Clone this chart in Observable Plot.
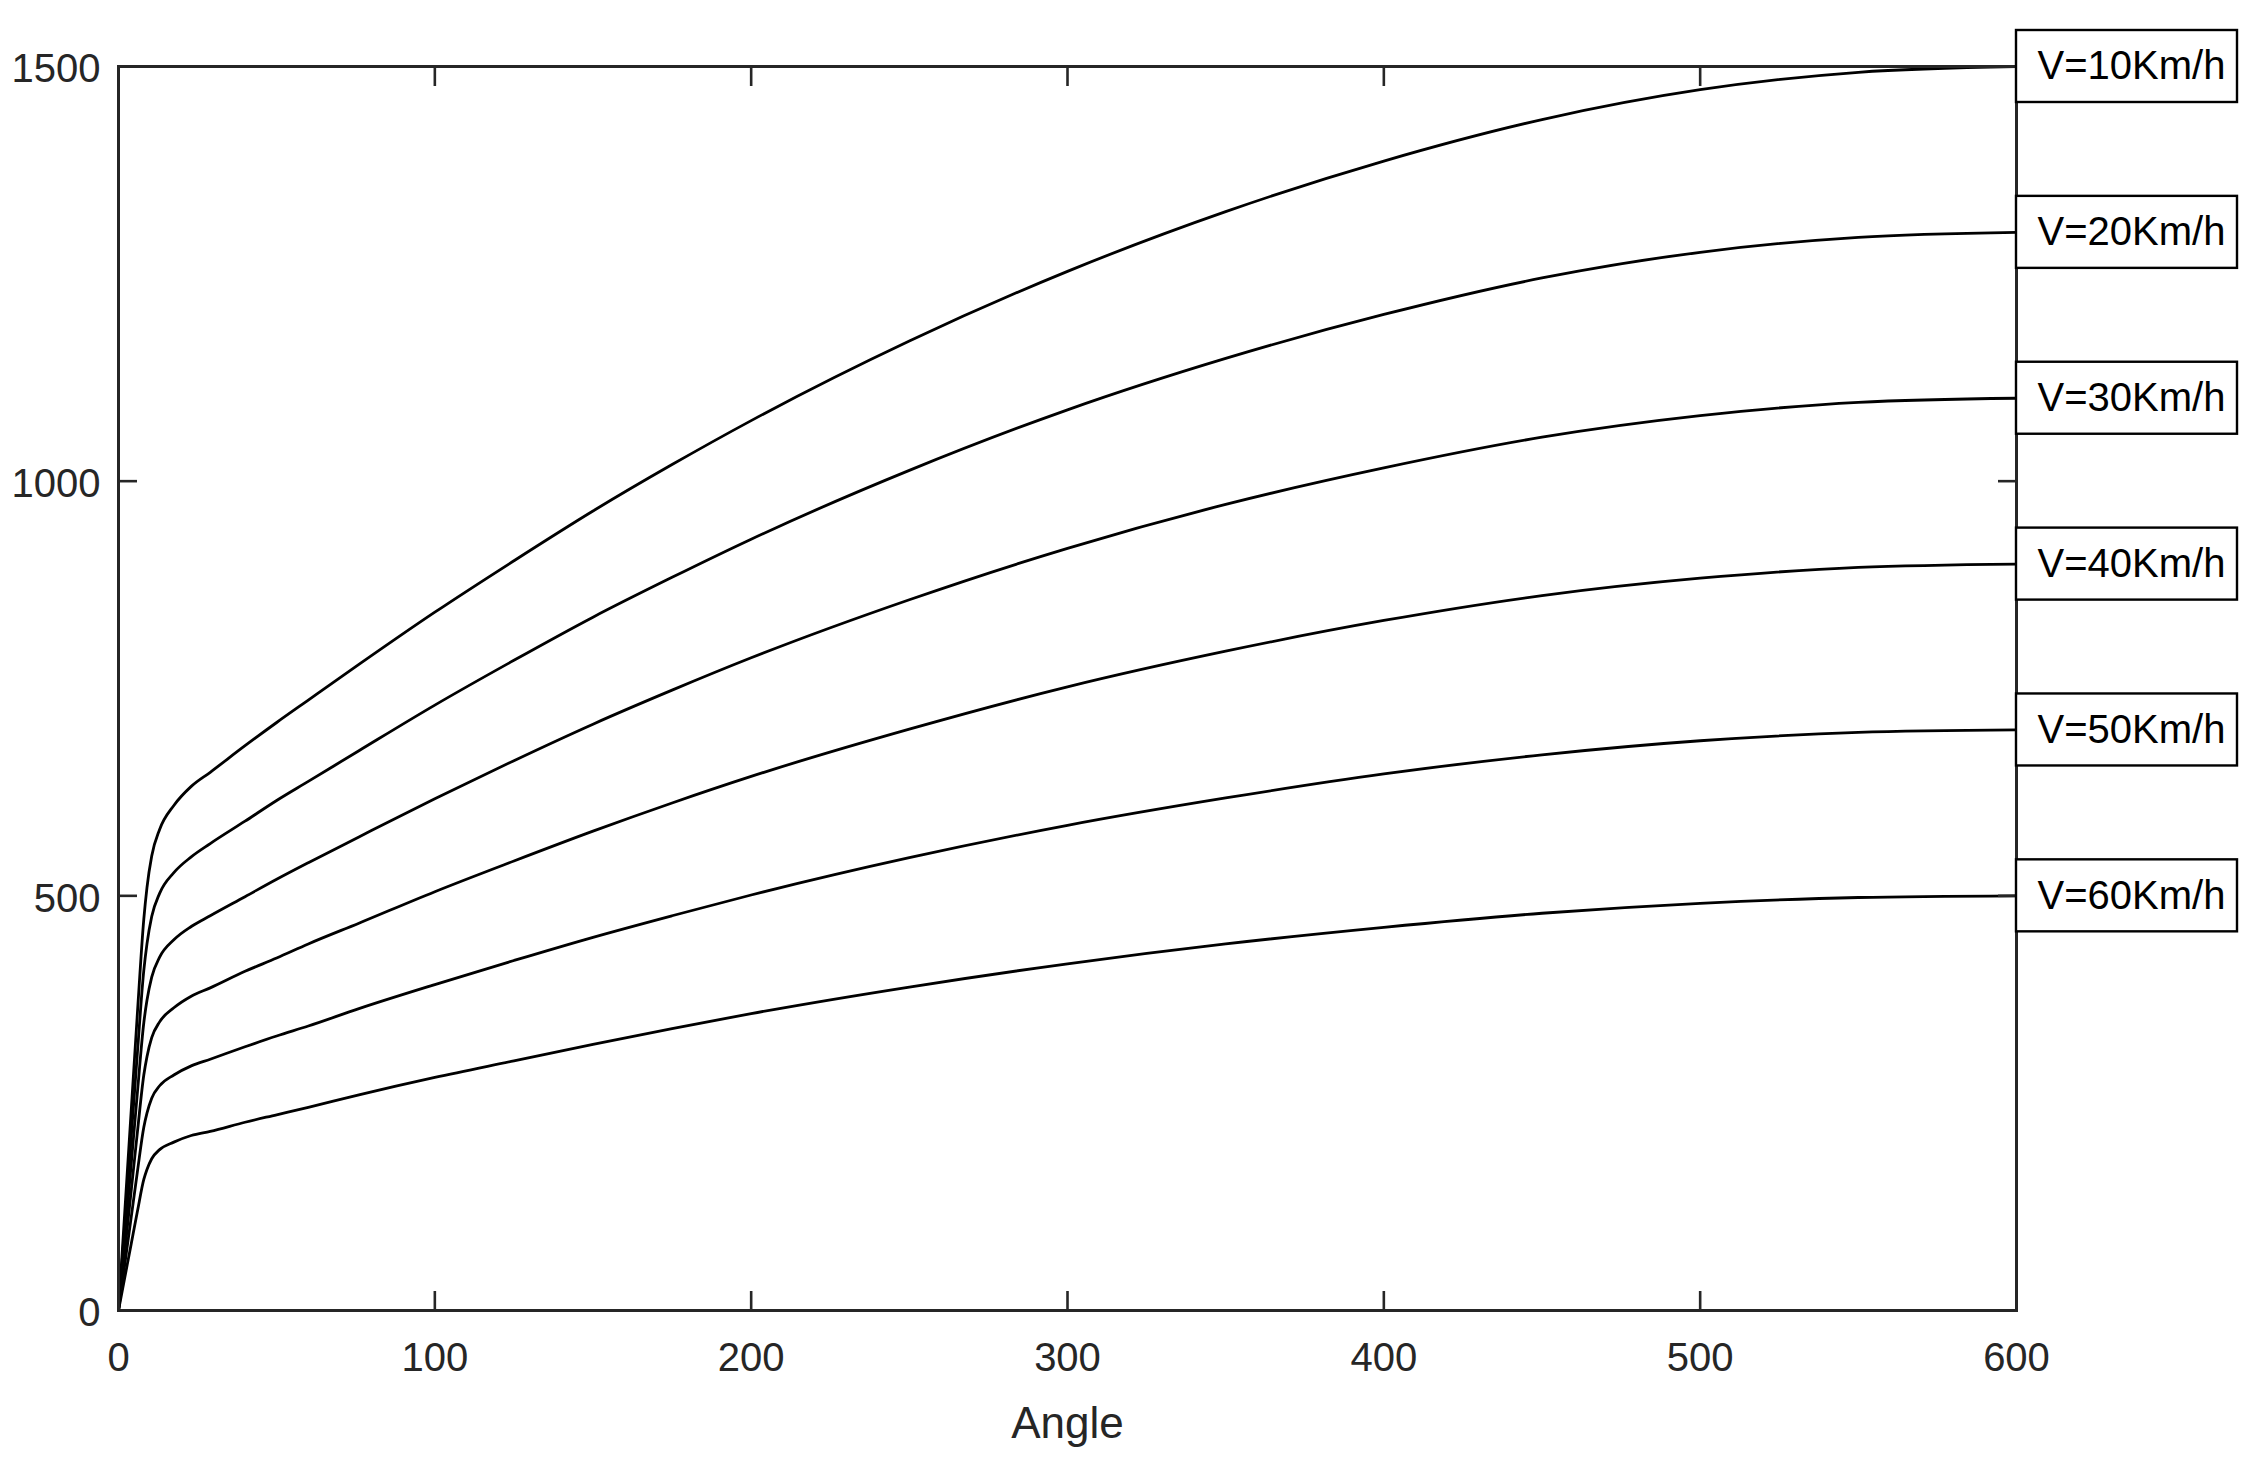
<!DOCTYPE html>
<html>
<head>
<meta charset="utf-8">
<script src="https://cdn.jsdelivr.net/npm/d3@7"></script>
<script src="https://cdn.jsdelivr.net/npm/@observablehq/plot@0.6"></script>
<style>
  html, body { margin: 0; padding: 0; background: #ffffff; }
  #chart { width: 2251px; height: 1459px; }
</style>
</head>
<body>
<div id="chart"></div>
<script>
const angles = [0, 2, 4, 6, 8, 9, 10.5, 13, 17.5, 23, 29, 40, 50, 60, 76, 100, 125, 150, 175, 200, 250, 300, 350, 400, 450, 500, 550, 600];
const v10 = [0, 120, 240, 360, 472, 510, 548, 580, 609, 632, 649, 681, 709, 736, 779, 842, 904, 964, 1020, 1073, 1169, 1253, 1325, 1386, 1436, 1472, 1493, 1500];
const v20 = [0, 104, 208, 312, 410, 442, 475, 503, 528, 547, 563, 590, 615, 638, 675, 730, 784, 836, 884, 930, 1013, 1086, 1148, 1201, 1245, 1276, 1294, 1300];
const v30 = [0, 88, 176, 264, 347, 374, 402, 426, 447, 463, 476, 499, 520, 540, 571, 617, 663, 707, 748, 787, 857, 919, 972, 1016, 1053, 1079, 1095, 1100];
const v40 = [0, 72, 144, 216, 284, 306, 329, 348, 365, 379, 389, 409, 425, 442, 467, 505, 542, 578, 612, 644, 701, 752, 795, 832, 862, 883, 896, 900];
const v50 = [0, 56, 112, 168, 221, 238, 256, 271, 284, 295, 303, 318, 331, 343, 364, 393, 422, 450, 476, 501, 546, 585, 618, 647, 670, 687, 697, 700];
const v60 = [0, 40, 80, 120, 158, 170, 183, 194, 203, 211, 216, 227, 236, 245, 260, 281, 301, 321, 340, 358, 390, 418, 442, 462, 479, 491, 498, 500];
const seriesNames = ["V=10Km/h", "V=20Km/h", "V=30Km/h", "V=40Km/h", "V=50Km/h", "V=60Km/h"];
const seriesValues = [v10, v20, v30, v40, v50, v60];
const xTicks = [0, 100, 200, 300, 400, 500, 600];
const yTicks = [0, 500, 1000, 1500];
const xLabel = "Angle";

const rows = [];
seriesNames.forEach((name, i) => {
  angles.forEach((a, j) => rows.push({series: name, angle: a, value: seriesValues[i][j]}));
});
const lastX = angles[angles.length - 1];
const labels = seriesNames.map((name, i) => ({
  series: name,
  x: lastX,
  y: seriesValues[i][seriesValues[i].length - 1]
}));

const axisColor = "#262626";
const fmt = d3.format("d");
const noText = () => "";
const chart = Plot.plot({
  width: 2251,
  height: 1459,
  marginLeft: 118,
  marginRight: 235,
  marginTop: 66,
  marginBottom: 149,
  x: {domain: [0, 600]},
  y: {domain: [0, 1500]},
  style: {
    fontFamily: "'Liberation Sans', Arial, Helvetica, sans-serif",
    fontSize: "40px",
    color: axisColor,
    background: "#ffffff",
    overflow: "visible"
  },
  marks: [
    Plot.line(rows, {x: "angle", y: "value", z: "series", stroke: "#000000", strokeWidth: 2.8, curve: "monotone-x"}),
    Plot.frame({stroke: axisColor, strokeWidth: 3}),
    Plot.axisX(xTicks, {anchor: "bottom", tickSize: -19, tickPadding: 51, tickFormat: fmt, label: null, fontSize: 40, strokeWidth: 2.6}),
    Plot.axisX(xTicks, {anchor: "top", tickSize: -19, tickFormat: noText, label: null, strokeWidth: 2.6}),
    Plot.axisY(yTicks, {anchor: "left", tickSize: -19, tickFormat: noText, label: null, strokeWidth: 2.6}),
    Plot.axisY(yTicks, {anchor: "left", tickSize: 0, tickPadding: 18, tickFormat: fmt, dy: 3, label: null, fontSize: 40, strokeOpacity: 0}),
    Plot.axisY(yTicks, {anchor: "right", tickSize: -19, tickFormat: noText, label: null, strokeWidth: 2.6}),
    Plot.rect(labels, {
      x1: "x", x2: "x", y1: "y", y2: "y",
      insetRight: -221, insetTop: -36, insetBottom: -36,
      fill: "#ffffff", stroke: "#000000", strokeWidth: 2.4
    }),
    Plot.text(labels, {
      x: "x", y: "y", text: "series",
      textAnchor: "start", dx: 21, fontSize: 40, fill: "#000000"
    }),
    Plot.text([xLabel], {frameAnchor: "bottom", dy: 127, fontSize: 44, fill: axisColor})
  ]
});
document.getElementById("chart").appendChild(chart);
</script>
</body>
</html>
